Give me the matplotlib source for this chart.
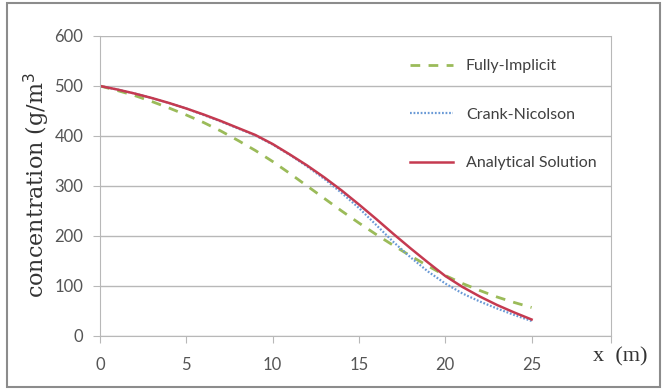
import numpy as np
import matplotlib.pyplot as plt
from matplotlib.patches import Rectangle

x = list(range(0, 26))
fully_implicit = [500, 491, 481, 469, 456, 442, 427, 410, 391, 371, 349, 325, 300,
                  275, 250, 226, 203, 181, 160, 140, 121, 105, 91, 78, 67, 57]
crank_nicolson = [500, 493, 485, 476, 466, 455, 442, 429, 415, 401, 383, 362, 339,
                  314, 286, 256, 222, 188, 157, 129, 105, 85, 69, 55, 42, 30]
analytical = [500, 493, 485, 476, 466, 455, 443, 430, 416, 402, 384, 363, 341,
              317, 291, 263, 234, 204, 175, 147, 120, 98, 79, 62, 47, 33]
series_labels = ['Fully-Implicit', 'Crank-Nicolson', 'Analytical Solution']
y_ticks = [0, 100, 200, 300, 400, 500, 600]
x_ticks = [0, 5, 10, 15, 20, 25]

plt.rcParams['font.family'] = ['Lato', 'DejaVu Sans']

fig = plt.figure(figsize=(6.7, 3.89), dpi=100)
ax = fig.add_axes([100/670, 1-336/389, 511/670, 300/389])

ax.plot(x, fully_implicit, color='#9bbb59', lw=2.0, ls=(0, (3.5, 3)), label=series_labels[0])
ax.plot(x, crank_nicolson, color='#6a9ad6', lw=1.6, ls=(0, (0.8, 0.8)), label=series_labels[1])
ax.plot(x, analytical, color='#c53a50', lw=1.8, label=series_labels[2])

ax.set_xlim(0, 29.6)
ax.set_ylim(0, 600)
ax.set_yticks(y_ticks)
ax.set_xticks(x_ticks + [29.6])
ax.set_xticklabels([str(t) for t in x_ticks] + [''])
ax.grid(axis='y', color='#b8b8b8', lw=1.0)
ax.set_axisbelow(True)
for side in ['left', 'bottom', 'right']:
    ax.spines[side].set_color('#b8b8b8')
ax.spines['top'].set_visible(False)
ax.tick_params(axis='both', colors='#b8b8b8', length=5, labelcolor='#555555', labelsize=12)
ax.tick_params(axis='x', pad=10)
ax.tick_params(axis='y', pad=7)

ax.legend(loc='upper left', bbox_to_anchor=(402/670, 1-51/389), bbox_transform=fig.transFigure,
          frameon=False, borderpad=0, labelspacing=2.15, handlelength=2.7, handletextpad=0.8,
          fontsize=11.5, labelcolor='#404040')

fig.text(37/670, 1-185/389, 'concentration (g/m$^3$', rotation=90, ha='center', va='center',
         family='DejaVu Serif', fontsize=16, color='#333333')
fig.text(593/670, 1-357/389, 'x  (m)', ha='left', va='center',
         family='Liberation Serif', fontsize=16, color='#333333')

fig.patches.append(Rectangle((7/670, 2/389), 653/670, 384/389, transform=fig.transFigure,
                             fill=False, edgecolor='#8c8c8c', lw=1.5))

plt.savefig('out.png', dpi=100)
